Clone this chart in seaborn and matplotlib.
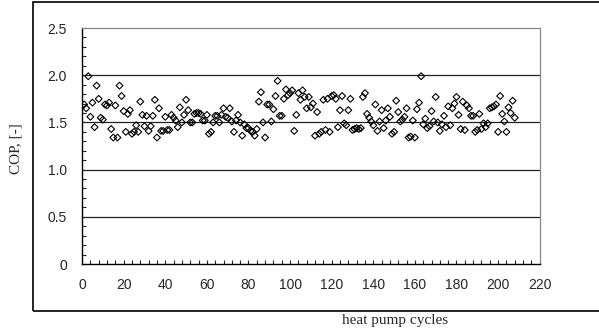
import numpy as np
import pandas as pd
import matplotlib
matplotlib.use('Agg')
import matplotlib.pyplot as plt
import seaborn as sns
from matplotlib.patches import Rectangle
from matplotlib.ticker import MultipleLocator

# COP values per heat pump cycle
cop_part1 = [1.69, 1.65, 1.99, 1.56, 1.71, 1.45, 1.89, 1.75, 1.55, 1.53,
             1.69, 1.68, 1.71, 1.43, 1.34, 1.68, 1.34, 1.89, 1.78, 1.62,
             1.40, 1.59, 1.63, 1.38, 1.40, 1.47, 1.40, 1.72, 1.58, 1.46,
             1.57, 1.41]
cop_part2 = [1.46, 1.57, 1.74, 1.34, 1.65, 1.41, 1.41, 1.56, 1.42, 1.42,
             1.58, 1.55, 1.52, 1.45, 1.66, 1.50, 1.58, 1.74, 1.63, 1.50,
             1.50, 1.59, 1.60, 1.60, 1.59, 1.52, 1.52, 1.58, 1.38, 1.40,
             1.50, 1.57, 1.57, 1.50, 1.58, 1.65]
cop_part3 = [1.56, 1.55, 1.65, 1.51, 1.40, 1.52, 1.58, 1.50, 1.36, 1.48,
             1.44, 1.44, 1.41, 1.40, 1.36, 1.43, 1.72, 1.82, 1.50, 1.34,
             1.69, 1.69, 1.51, 1.64, 1.78, 1.94, 1.57, 1.57, 1.75, 1.85,
             1.79, 1.81, 1.84, 1.41, 1.58, 1.81, 1.74, 1.84, 1.77, 1.65]
cop_part4 = [1.77, 1.66, 1.70, 1.36, 1.61, 1.38, 1.40, 1.74, 1.42, 1.75,
             1.40, 1.78, 1.79, 1.75, 1.45, 1.63, 1.78, 1.49, 1.47, 1.63,
             1.75, 1.42, 1.43, 1.44, 1.43, 1.44, 1.77, 1.81, 1.59, 1.55,
             1.51, 1.47, 1.69, 1.41, 1.51, 1.63, 1.44, 1.52, 1.65, 1.56]
cop_part5 = [1.38, 1.40, 1.73, 1.61, 1.51, 1.53, 1.56, 1.65, 1.34, 1.35,
             1.52, 1.34, 1.64, 1.71, 1.99, 1.48, 1.54, 1.44, 1.46, 1.62,
             1.51, 1.77, 1.50, 1.41, 1.48, 1.57, 1.45, 1.67, 1.47, 1.65,
             1.70, 1.77, 1.58, 1.43]
cop_part6 = [1.72, 1.42, 1.68, 1.65, 1.57, 1.57, 1.40, 1.42, 1.59, 1.43,
             1.49, 1.45, 1.49, 1.65, 1.66, 1.67, 1.69, 1.40, 1.78, 1.59,
             1.51, 1.40, 1.66, 1.60, 1.73, 1.55]

cop = cop_part1 + cop_part2 + cop_part3 + cop_part4 + cop_part5 + cop_part6
cycles = list(range(1, len(cop) + 1))

df = pd.DataFrame({'cycle': cycles, 'COP': cop})

sns.set_style('white')
plt.rcParams['font.family'] = ['Liberation Sans', 'DejaVu Sans']

fig = plt.figure(figsize=(5.99, 3.30), dpi=100)
ax = fig.add_axes([0.137, 0.2, 0.764, 0.715])

sns.scatterplot(data=df, x='cycle', y='COP', marker='D', s=12,
                facecolor='none', edgecolor='black', linewidth=0.8, ax=ax)

ax.set_xlim(0, 220)
ax.set_ylim(0, 2.5)
ax.xaxis.set_major_locator(MultipleLocator(20))
ax.xaxis.set_minor_locator(MultipleLocator(4))
ax.yaxis.set_minor_locator(MultipleLocator(0.1))
ax.set_yticks([0, 0.5, 1.0, 1.5, 2.0, 2.5])
ax.set_yticklabels(['0', '0.5', '1.0', '1.5', '2.0', '2.5'])

ax.tick_params(which='both', direction='in', length=3, width=0.8,
               labelsize=10, left=True, bottom=True)
ax.tick_params(axis='y', pad=11)
ax.tick_params(axis='x', pad=10)

for y in [0.5, 1.0, 1.5, 2.0]:
    ax.axhline(y, color='#222222', linewidth=0.9, zorder=0)

for side in ['left', 'bottom']:
    ax.spines[side].set_color('black')
    ax.spines[side].set_linewidth(1.0)
for side in ['top', 'right']:
    ax.spines[side].set_color('#888888')
    ax.spines[side].set_linewidth(0.9)

ax.set_xlabel('')
ax.set_ylabel('')

# outer frame around the chart
fig.patches.append(Rectangle((0.055, 0.058), 0.96, 0.936, transform=fig.transFigure,
                             fill=False, edgecolor='black', linewidth=1.2))

fig.text(0.66, 0.03, 'heat pump cycles', ha='center', va='center',
         family='Liberation Serif', fontsize=11)
fig.text(0.027, 0.55, 'COP, [-]', ha='center', va='center', rotation=90,
         family='Liberation Serif', fontsize=11)

fig.savefig('out.png', dpi=100)
